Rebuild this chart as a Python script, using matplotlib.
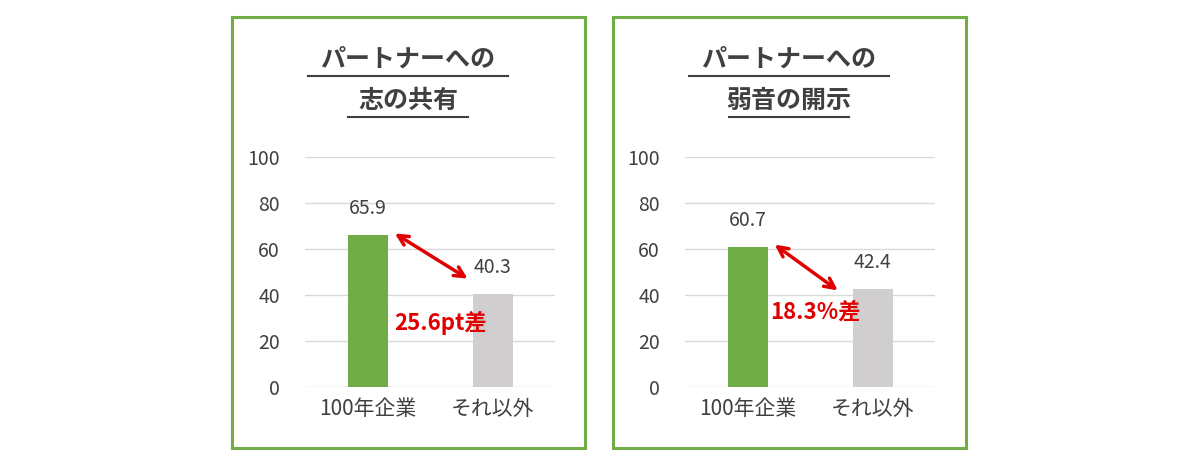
import matplotlib
matplotlib.use('Agg')
import matplotlib.pyplot as plt
from matplotlib.patches import Rectangle

plt.rcParams['font.family'] = ['Noto Sans CJK JP', 'DejaVu Sans']

categories = ['100年企業', 'それ以外']
titles = [('パートナーへの', '志の共有'), ('パートナーへの', '弱音の開示')]
values_left = [65.9, 40.3]
values_right = [60.7, 42.4]
gap_labels = ['25.6pt差', '18.3%差']
yticks = [0, 20, 40, 60, 80, 100]

W, H = 1197, 465
fig = plt.figure(figsize=(W / 100, H / 100), dpi=100)

green = '#70AD47'
gray = '#D0CECE'

panels = [
    (232, 305, values_left, titles[0], gap_labels[0], (0.2, 67.4), (0.82, 46.5), (0.58, 28)),
    (613, 685, values_right, titles[1], gap_labels[1], (0.2, 62.6), (0.74, 41.3), (0.54, 32.6)),
]

for box_x, ax_x, vals, title, gap, a0, a1, lab in panels:
    fig.patches.append(Rectangle((box_x / W, 17 / H), 353 / W, 431 / H, transform=fig.transFigure,
                                 fill=False, edgecolor=green, linewidth=2.2))
    cx = (box_x + 176) / W
    for line, ly in zip(title, (60, 101)):
        fig.text(cx, 1 - ly / H, line, ha='center', va='center', fontsize=18, fontweight='bold',
                 color='#404040')
    fig.add_artist(plt.Line2D([(box_x + 76) / W, (box_x + 276) / W], [1 - 76 / H] * 2,
                              transform=fig.transFigure, color='#404040', linewidth=1.5))
    fig.add_artist(plt.Line2D([(box_x + 116) / W, (box_x + 236) / W], [1 - 117 / H] * 2,
                              transform=fig.transFigure, color='#404040', linewidth=1.5))

    ax = fig.add_axes([ax_x / W, 78 / H, 250 / W, 230 / H])
    ax.bar([0, 1], vals, width=0.32, color=[green, gray])
    ax.set_xlim(-0.5, 1.5)
    ax.set_ylim(0, 100)
    ax.set_yticks(yticks)
    ax.set_xticks([0, 1])
    ax.set_xticklabels(categories)
    ax.tick_params(length=0, labelsize=14, colors='#404040', pad=8)
    ax.tick_params(axis='x', labelsize=15)
    ax.tick_params(axis='y', pad=18)
    ax.grid(axis='y', color='#D9D9D9', linewidth=1)
    ax.set_axisbelow(True)
    for s in ax.spines.values():
        s.set_visible(False)
    for i, v in enumerate(vals):
        ax.text(i, v + 7, f'{v:.1f}', ha='center', va='bottom', fontsize=14, color='#404040')
    ax.annotate('', xy=a1, xytext=a0,
                arrowprops=dict(arrowstyle='<->', color='#E00000', lw=2.5, mutation_scale=18))
    ax.text(lab[0], lab[1], gap, ha='center', va='center', fontsize=16, fontweight='bold', color='#E00000')

fig.savefig('out.png', dpi=100)
